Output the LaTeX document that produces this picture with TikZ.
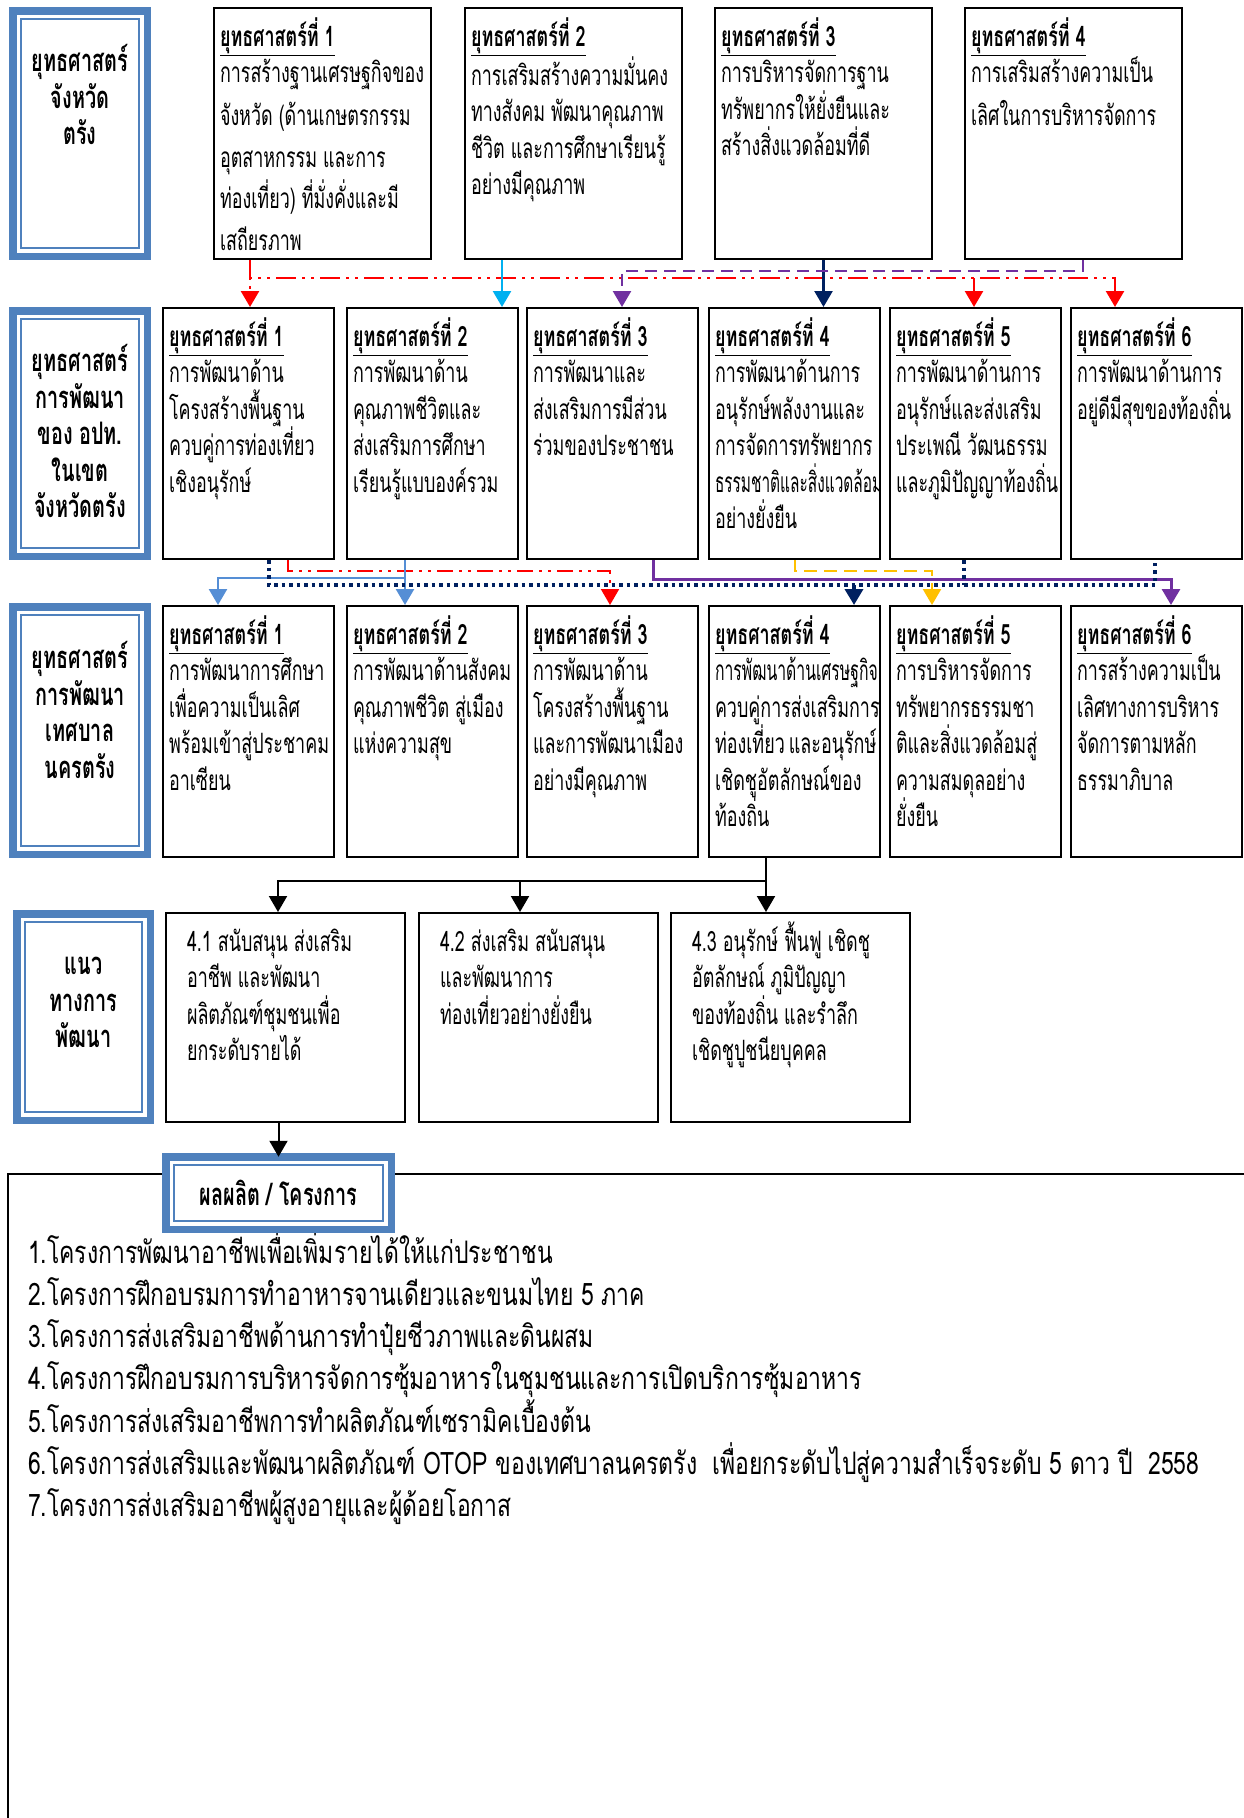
\documentclass[tikz,border=0pt]{standalone}
\usepackage{fontspec}
\setmainfont[Script=Thai,FakeStretch=0.64]{Loma}
\newfontfamily\listfont[Script=Thai,FakeStretch=0.74]{Loma}
\usetikzlibrary{arrows.meta}

\definecolor{frameblue}{HTML}{4F81BD}
\definecolor{cyanarrow}{HTML}{00B0F0}
\definecolor{purplearrow}{HTML}{7030A0}
\definecolor{navyarrow}{HTML}{002060}
\definecolor{steelarrow}{HTML}{558ED5}
\definecolor{goldarrow}{HTML}{FFC000}

\newcommand{\cellfont}{\fontsize{28}{36.5}\selectfont}
\newcommand{\lblfont}{\fontsize{31}{36.5}\selectfont\bfseries}
\newcommand{\cellbody}[4]{\begin{minipage}[c][#2][t]{#1}\rule{0pt}{#3}#4\end{minipage}}
\newcommand{\stratno}[1]{\underline{\textbf{#1}}}
\newcommand{\squeeze}[2]{\scalebox{#1}[1]{#2}}

\begin{document}
\begin{tikzpicture}[x=1pt, y=-1pt,
    cell/.style={draw, line width=2pt, inner xsep=6pt, inner ysep=0pt, outer sep=1pt, anchor=north west, font=\cellfont},
    widecell/.style={cell, inner xsep=21pt},
    lbl/.style={draw=frameblue, line width=7.5pt, inner sep=0pt, outer sep=0pt, font=\lblfont,
        path picture={\draw[frameblue, line width=2pt] ([shift={(8.25pt,-8.25pt)}]path picture bounding box.north west) rectangle ([shift={(-8.25pt,8.25pt)}]path picture bounding box.south east);}},
    arrow/.style={-{Triangle[length=16pt,width=18pt]}},
    redlink/.style={draw=red, line width=2.5pt, dash pattern=on 20pt off 6pt on 3pt off 6pt on 3pt off 6pt},
    redthin/.style={draw=red, line width=2pt, dash pattern=on 16pt off 6pt on 3pt off 6pt on 3pt off 6pt},
    purpledash/.style={draw=purplearrow, line width=2.5pt, dash pattern=on 12pt off 7pt},
    golddash/.style={draw=goldarrow, line width=2.5pt, dash pattern=on 13pt off 7pt},
    navydot/.style={draw=navyarrow, line width=3.5pt, dash pattern=on 3.5pt off 4pt},
    solidlink/.style={line width=2.5pt}
]
\useasboundingbox (0,0) rectangle (1243,1818);

% Row labels
\node[lbl] (lbl1) at (80,133.5) {\cellbody{134.5pt}{245.5pt}{61pt}{\centering ยุทธศาสตร์\\จังหวัด\\ตรัง}};
\node[lbl] (lbl2) at (80,433.5) {\cellbody{134.5pt}{245.5pt}{61pt}{\centering ยุทธศาสตร์\\การพัฒนา\\ของ~อปท.\\ในเขต\\จังหวัดตรัง}};
\node[lbl] (lbl3) at (80,730.5) {\cellbody{134.5pt}{247.5pt}{62pt}{\centering ยุทธศาสตร์\\การพัฒนา\\เทศบาล\\นครตรัง}};
\node[lbl] (lbl4) at (83.5,1017) {\cellbody{133.5pt}{206.5pt}{61pt}{\centering แนว\\ทางการ\\พัฒนา}};

% Row 1: province strategies
\node[cell] (r1b1) at (213,7) {\cellbody{205pt}{251pt}{38pt}{\stratno{ยุทธศาสตร์ที่~1}\\
การสร้างฐานเศรษฐกิจของ\\[6pt]
จังหวัด~(ด้านเกษตรกรรม\\[6pt]
อุตสาหกรรม~และการ\\[4pt]
ท่องเที่ยว)~ที่มั่งคั่งและมี\\[6pt]
เสถียรภาพ}};
\node[cell] (r1b2) at (464,7) {\cellbody{205pt}{251pt}{38pt}{\stratno{ยุทธศาสตร์ที่~2}\\
การเสริมสร้างความมั่นคง\\
ทางสังคม~พัฒนาคุณภาพ\\
ชีวิต~และการศึกษาเรียนรู้\\
อย่างมีคุณภาพ}};
\node[cell] (r1b3) at (714,7) {\cellbody{205pt}{251pt}{38pt}{\stratno{ยุทธศาสตร์ที่~3}\\
การบริหารจัดการฐาน\\
ทรัพยากรให้ยั่งยืนและ\\
สร้างสิ่งแวดล้อมที่ดี}};
\node[cell] (r1b4) at (964,7) {\cellbody{205pt}{251pt}{38pt}{\stratno{ยุทธศาสตร์ที่~4}\\
การเสริมสร้างความเป็น\\[6pt]
เลิศในการบริหารจัดการ}};

% Row 2: local government strategies
\node[cell] (r2b1) at (162,307) {\cellbody{159pt}{251pt}{38pt}{\stratno{ยุทธศาสตร์ที่~1}\\
การพัฒนาด้าน\\
โครงสร้างพื้นฐาน\\
ควบคู่การท่องเที่ยว\\
เชิงอนุรักษ์}};
\node[cell] (r2b2) at (346,307) {\cellbody{159pt}{251pt}{38pt}{\stratno{ยุทธศาสตร์ที่~2}\\
การพัฒนาด้าน\\
คุณภาพชีวิตและ\\
ส่งเสริมการศึกษา\\
เรียนรู้แบบองค์รวม}};
\node[cell] (r2b3) at (526,307) {\cellbody{159pt}{251pt}{38pt}{\stratno{ยุทธศาสตร์ที่~3}\\
การพัฒนาและ\\
ส่งเสริมการมีส่วน\\
ร่วมของประชาชน}};
\node[cell] (r2b4) at (708,307) {\cellbody{159pt}{251pt}{38pt}{\stratno{ยุทธศาสตร์ที่~4}\\
การพัฒนาด้านการ\\
อนุรักษ์พลังงานและ\\
การจัดการทรัพยากร\\
\squeeze{0.86}{ธรรมชาติและสิ่งแวดล้อม}\\
อย่างยั่งยืน}};
\node[cell] (r2b5) at (889,307) {\cellbody{159pt}{251pt}{38pt}{\stratno{ยุทธศาสตร์ที่~5}\\
การพัฒนาด้านการ\\
อนุรักษ์และส่งเสริม\\
ประเพณี~วัฒนธรรม\\
และภูมิปัญญาท้องถิ่น}};
\node[cell] (r2b6) at (1070,307) {\cellbody{159pt}{251pt}{38pt}{\stratno{ยุทธศาสตร์ที่~6}\\
การพัฒนาด้านการ\\
อยู่ดีมีสุขของท้องถิ่น}};

% Row 3: municipality strategies
\node[cell] (r3b1) at (162,605) {\cellbody{159pt}{251pt}{38pt}{\stratno{ยุทธศาสตร์ที่~1}\\
การพัฒนาการศึกษา\\
เพื่อความเป็นเลิศ\\
พร้อมเข้าสู่ประชาคม\\
อาเซียน}};
\node[cell] (r3b2) at (346,605) {\cellbody{159pt}{251pt}{38pt}{\stratno{ยุทธศาสตร์ที่~2}\\
การพัฒนาด้านสังคม\\
คุณภาพชีวิต~สู่เมือง\\
แห่งความสุข}};
\node[cell] (r3b3) at (526,605) {\cellbody{159pt}{251pt}{38pt}{\stratno{ยุทธศาสตร์ที่~3}\\
การพัฒนาด้าน\\
โครงสร้างพื้นฐาน\\
และการพัฒนาเมือง\\
อย่างมีคุณภาพ}};
\node[cell] (r3b4) at (708,605) {\cellbody{159pt}{251pt}{38pt}{\stratno{ยุทธศาสตร์ที่~4}\\
\squeeze{0.88}{การพัฒนาด้านเศรษฐกิจ}\\
ควบคู่การส่งเสริมการ\\
ท่องเที่ยว~และอนุรักษ์\\
เชิดชูอัตลักษณ์ของ\\
ท้องถิ่น}};
\node[cell] (r3b5) at (889,605) {\cellbody{159pt}{251pt}{38pt}{\stratno{ยุทธศาสตร์ที่~5}\\
การบริหารจัดการ\\
ทรัพยากรธรรมชา\\
ติและสิ่งแวดล้อมสู่\\
ความสมดุลอย่าง\\
ยั่งยืน}};
\node[cell] (r3b6) at (1070,605) {\cellbody{159pt}{251pt}{38pt}{\stratno{ยุทธศาสตร์ที่~6}\\
การสร้างความเป็น\\
เลิศทางการบริหาร\\
จัดการตามหลัก\\
ธรรมาภิบาล}};

% Row 4: development guidelines
\node[widecell] (r4b1) at (165,912) {\cellbody{197pt}{209pt}{38pt}{4.1~สนับสนุน~ส่งเสริม\\
อาชีพ~และพัฒนา\\
ผลิตภัณฑ์ชุมชนเพื่อ\\
ยกระดับรายได้}};
\node[widecell] (r4b2) at (418,912) {\cellbody{197pt}{209pt}{38pt}{4.2~ส่งเสริม~สนับสนุน\\
และพัฒนาการ\\
ท่องเที่ยวอย่างยั่งยืน}};
\node[widecell] (r4b3) at (670,912) {\cellbody{197pt}{209pt}{38pt}{4.3~อนุรักษ์~ฟื้นฟู~เชิดชู\\
อัตลักษณ์~ภูมิปัญญา\\
ของท้องถิ่น~และรำลึก\\
เชิดชูปูชนียบุคคล}};

% Outputs / projects
\node[cell, inner xsep=20pt, font=\listfont\fontsize{31}{42.3}\selectfont] (outbox) at (7,1173) {\cellbody{1300pt}{700pt}{89pt}{1.โครงการพัฒนาอาชีพเพื่อเพิ่มรายได้ให้แก่ประชาชน\\
2.โครงการฝึกอบรมการทำอาหารจานเดียวและขนมไทย~5~ภาค\\
3.โครงการส่งเสริมอาชีพด้านการทำปุ๋ยชีวภาพและดินผสม\\
4.โครงการฝึกอบรมการบริหารจัดการซุ้มอาหารในชุมชนและการเปิดบริการซุ้มอาหาร\\
5.โครงการส่งเสริมอาชีพการทำผลิตภัณฑ์เซรามิคเบื้องต้น\\
6.โครงการส่งเสริมและพัฒนาผลิตภัณฑ์~OTOP~ของเทศบาลนครตรัง~~เพื่อยกระดับไปสู่ความสำเร็จระดับ~5~ดาว~ปี~~2558\\
7.โครงการส่งเสริมอาชีพผู้สูงอายุและผู้ด้อยโอกาส}};
\node[lbl, fill=white, minimum width=225.5pt, minimum height=72.5pt] (outlbl) at (278.5,1193) {ผลผลิต~/~โครงการ};

% Row 1 -> Row 2
\coordinate (redsrc) at ([xshift=37pt]r1b1.south west);
\coordinate (redbus) at ([yshift=-18pt]redsrc);
\coordinate (red5) at ([xshift=85pt]r2b5.north west);
\draw[redlink, arrow] (redsrc) -- (redsrc |- r2b1.north);
\draw[redlink, arrow] (redsrc) -- (redbus) -| ([xshift=45pt]r2b6.north west);
\draw[redlink, arrow] (redbus -| red5) -- (red5);
\coordinate (cyansrc) at ([xshift=38pt]r1b2.south west);
\draw[cyanarrow, solidlink, arrow] (cyansrc) -- (cyansrc |- r2b2.north);
\draw[navyarrow, solidlink, arrow] (r1b3.south) -- (r1b3.south |- r2b4.north);
\draw[purpledash, arrow] ([xshift=119pt]r1b4.south west) -- ++(0,11) -| ([xshift=96pt]r2b3.north west);

% Row 2 -> Row 3
\draw[redthin, arrow] ([xshift=126pt]r2b1.south west) -- ++(0,11) -| ([xshift=84pt]r3b3.north west);
\coordinate (steelsrc) at ([xshift=59pt]r2b2.south west);
\draw[steelarrow, solidlink, arrow] (steelsrc) -- (steelsrc |- r3b2.north);
\draw[steelarrow, solidlink, arrow] (steelsrc) -- ++(0,18) -| ([xshift=56pt]r3b1.north west);
\draw[purplearrow, line width=3pt, arrow] ([xshift=127pt]r2b3.south west) -- ++(0,19) -| ([xshift=101pt]r3b6.north west);
\draw[golddash, arrow] ([xshift=87pt]r2b4.south west) -- ++(0,11) -| ([xshift=43pt]r3b5.north west);
\coordinate (dotsrc) at ([xshift=107pt]r2b1.south west);
\coordinate (dotbus) at ([yshift=-25pt]dotsrc);
\coordinate (dot5) at ([xshift=75pt]r2b5.south west);
\coordinate (dot4) at ([xshift=146pt]r3b4.north west);
\draw[navydot] (dotsrc) -- (dotbus) -| ([xshift=85pt]r2b6.south west);
\draw[navydot] (dot5) -- (dot5 |- dotbus);
\draw[navydot, arrow] (dot4 |- dotbus) -- (dot4);

% Row 3 -> Row 4
\coordinate (blksrc) at ([xshift=58pt]r3b4.south west);
\coordinate (blkbus) at ([yshift=-23pt]blksrc);
\coordinate (blk2) at ([xshift=102pt]r4b2.north west);
\draw[line width=2pt, arrow] (blksrc) -- (blksrc |- r4b3.north);
\draw[line width=2pt, arrow] (blksrc) -- (blkbus) -| ([xshift=113pt]r4b1.north west);
\draw[line width=2pt, arrow] (blkbus -| blk2) -- (blk2);
\draw[line width=2pt, arrow] (r4b1.south -| outlbl.north) -- (outlbl.north);

\end{tikzpicture}
\end{document}
